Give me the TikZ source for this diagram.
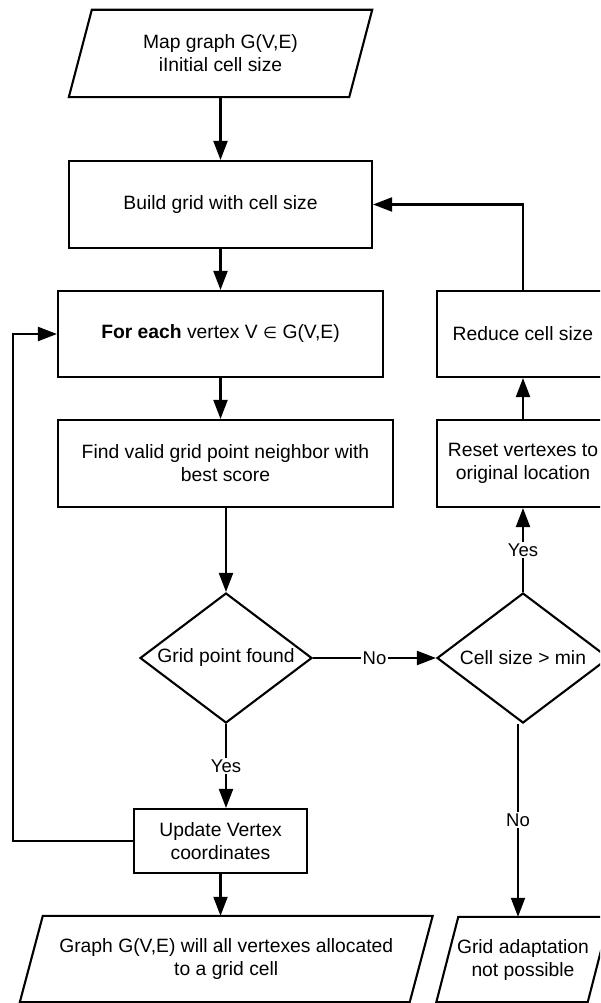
\documentclass[tikz,border=0pt]{standalone}
\usepackage{fontspec}
\setmainfont{Liberation Sans}
\newfontfamily\symbolfont{DejaVu Sans}
\usetikzlibrary{arrows.meta,shapes.geometric}

% slanted input/output outline around a rectangular text node
\newcommand\slantoutline[2]{%
  \draw[link] ([xshift=#2]#1.north west) -- ([xshift=#2]#1.north east)
    -- ([xshift=-#2]#1.south east) -- ([xshift=-#2]#1.south west) -- cycle;}

\begin{document}
\begin{tikzpicture}[x=1pt,y=-1pt,
  every node/.style={font=\fontsize{19.3}{23}\selectfont, align=center, inner sep=0pt},
  link/.style={line width=2.1pt, line join=miter},
  box/.style={draw, rectangle, line width=2.1pt},
  iotext/.style={rectangle},
  decision/.style={draw, diamond, aspect=1.32, line width=2.1pt,
                   minimum width=172pt, minimum height=130pt},
  flow/.style={link, -{Triangle[length=19pt,width=14pt]}},
  tag/.style={fill=white, inner sep=1.5pt, font=\fontsize{18.5}{22}\selectfont}
]
\useasboundingbox (0,0) rectangle (600,1003);
\clip (0,0) rectangle (600,1003);

% input
\node[iotext, minimum width=280pt, minimum height=87pt] (in1) at (220.5,53.5)
  {Map graph G(V,E)\\iInitial cell size};
\slantoutline{in1}{11.5pt}

% process steps
\node[box, minimum width=303pt, minimum height=87pt] (build) at (220.5,204.5)
  {Build grid with cell size};
\node[box, minimum width=325pt, minimum height=86pt] (foreach) at (220.5,334)
  {\textbf{For each} vertex V {\symbolfont\fontsize{16}{23}\selectfont ∈} G(V,E)};
\node[box, minimum width=172pt, minimum height=86pt] (reduce) at (523,334)
  {Reduce cell size};
\node[box, minimum width=335pt, minimum height=87pt] (find) at (225.5,463.5)
  {Find valid grid point neighbor with\\best score};
\node[box, minimum width=172pt, minimum height=87pt] (reset) at (523,463.5)
  {Reset vertexes to\\original location};

% decisions
\node[decision] (found) at (226,658) {Grid point found};
\node[decision] (minsize) at (523,658) {Cell size > min};

\node[box, minimum width=173pt, minimum height=64pt] (update) at (220.5,841)
  {Update Vertex\\coordinates};

% outputs
\node[iotext, minimum width=389.5pt, minimum height=86pt] (done) at (226.25,959)
  {Graph G(V,E) will all vertexes allocated\\to a grid cell};
\slantoutline{done}{11.5pt}
\node[iotext, minimum width=151pt, minimum height=85pt] (fail) at (523,959.5)
  {Grid adaptation\\not possible};
\slantoutline{fail}{11pt}

% connectors
\draw[flow] (in1) -- (build);
\draw[flow] (build) -- (foreach);
\draw[flow] (foreach.south) -- (foreach.south |- find.north);
\draw[flow] (found.north |- find.south) -- (found.north);
\draw[flow] (found.east) -- node[tag] {No} (minsize.west);
\draw[flow] (found.south) -- node[tag] {Yes} (found.south |- update.north);
\draw[flow] (update.west) -- ++(-120,0) |- (foreach.west);
\draw[flow] (update.south) -- (update.south |- done.north);
\draw[flow] ([xshift=-5pt]minsize.south) -- node[tag] {No} ([xshift=-5pt]minsize.south |- fail.north);
\draw[flow] (minsize.north) -- node[tag] {Yes} (reset.south);
\draw[flow] (reset.north) -- (reduce.south);
\draw[flow] (reduce.north) |- (build.east);
\end{tikzpicture}
\end{document}
